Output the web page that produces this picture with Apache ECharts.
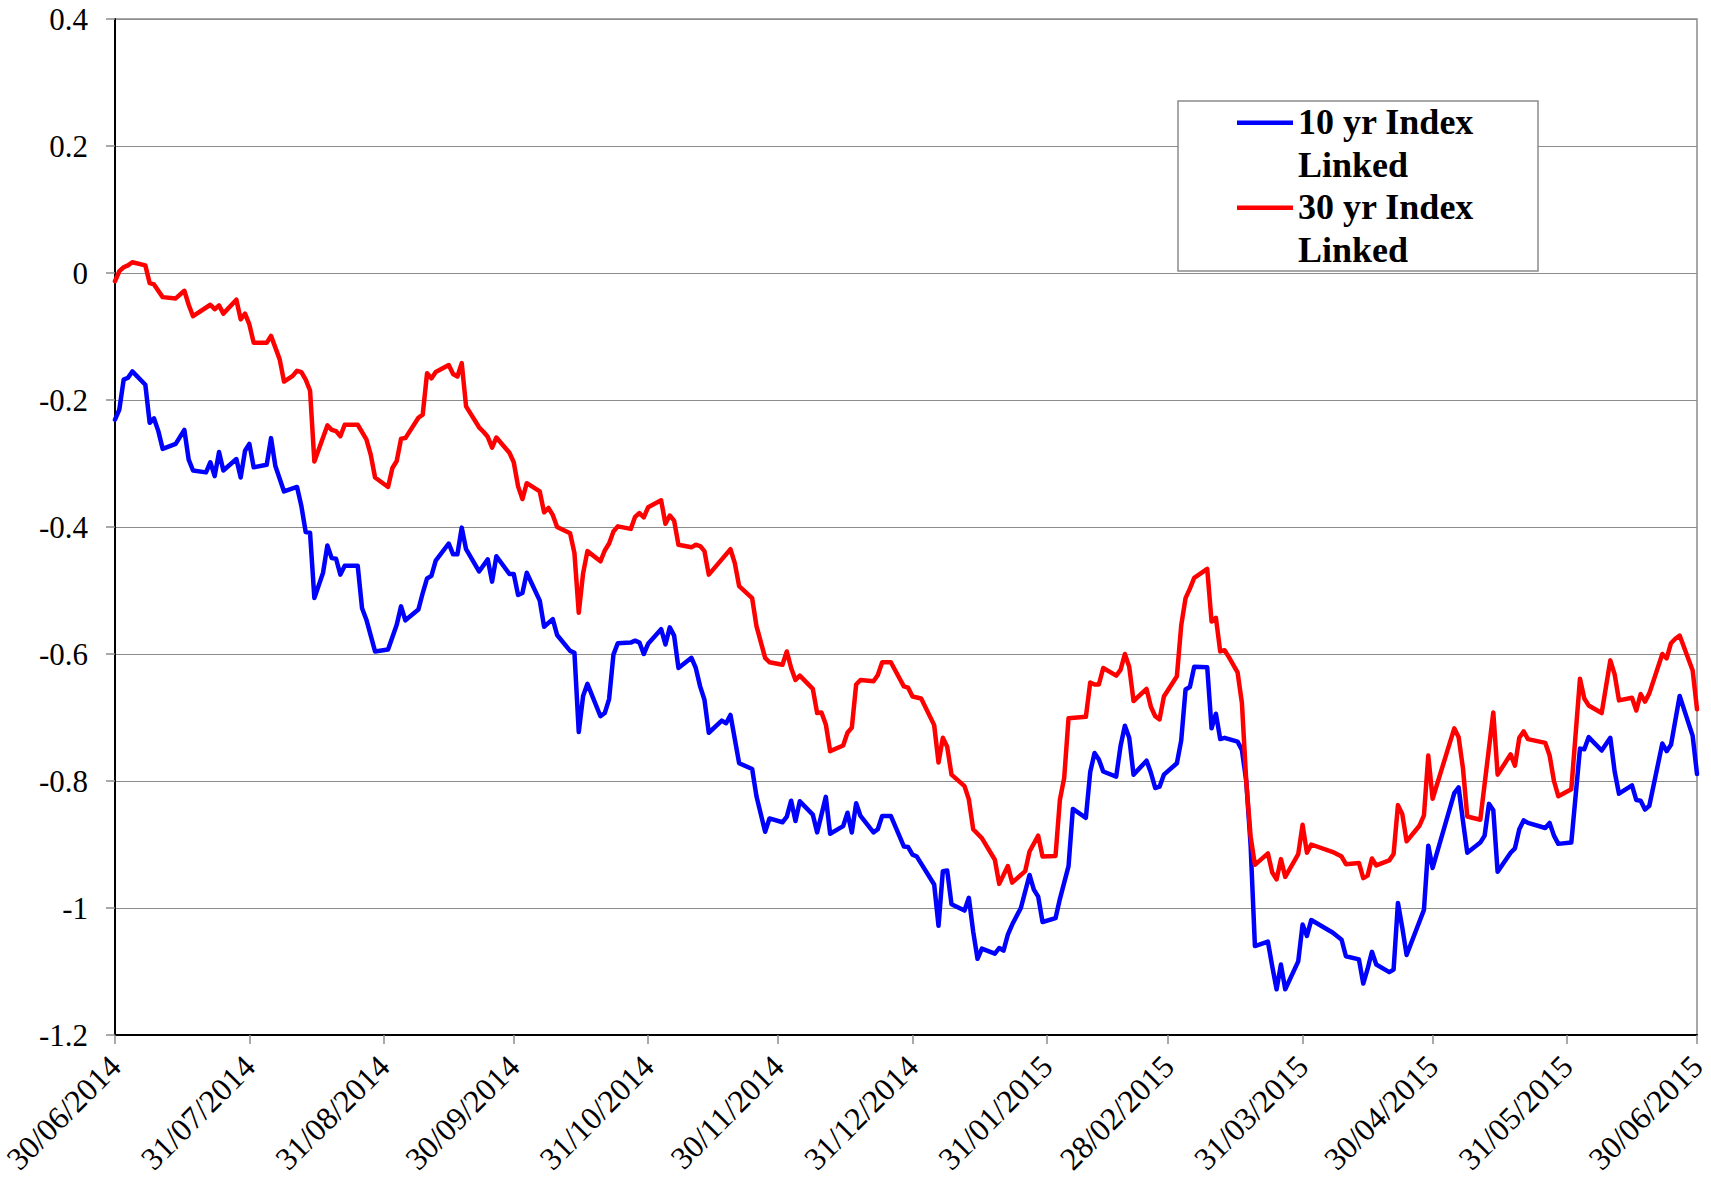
<!DOCTYPE html>
<html>
<head>
<meta charset="utf-8">
<script src="https://cdn.jsdelivr.net/npm/echarts@6/dist/echarts.min.js"></script>
<style>
  html, body { margin: 0; padding: 0; background: #ffffff; }
  #chart { width: 1711px; height: 1180px; }
</style>
</head>
<body>
<div id="chart"></div>
<script>
// Day offsets are counted from 30/06/2014 (day 0) to 30/06/2015 (day 365).

// 10 yr Index Linked
const tenYearDays = [
  0, 1, 2, 3, 4, 7, 8, 9, 10, 11, 14, 16, 17, 18, 21, 22, 23, 24, 25, 28,
  29, 30, 31, 32, 35, 36, 37, 39, 42, 43, 44, 45, 46, 48, 49, 50, 51, 52, 53, 56,
  57, 58, 60, 63, 65, 66, 67, 70, 71, 72, 73, 74, 77, 78, 79, 80, 81, 84, 86, 87,
  88, 91, 92, 93, 94, 95, 98, 99, 101, 102, 105, 106, 107, 108, 109, 112, 113, 114, 115, 116,
  119, 120, 121, 122, 123, 126, 127, 128, 129, 130, 133, 134, 135, 136, 137, 140, 141, 142, 144, 147,
  148, 150, 151, 154, 155, 156, 157, 158, 161, 162, 164, 165, 168, 169, 170, 171, 172, 175, 176, 177,
  179, 182, 183, 184, 185, 189, 190, 191, 192, 193, 196, 197, 198, 199, 200, 203, 204, 205, 206, 207,
  209, 211, 212, 213, 214, 217, 218, 220, 221, 224, 225, 226, 227, 228, 231, 232, 233, 234, 235, 238,
  239, 240, 241, 242, 245, 246, 247, 248, 249, 252, 253, 254, 255, 256, 259, 260, 261, 262, 263, 266,
  267, 268, 269, 270, 273, 274, 275, 276, 281, 283, 284, 287, 288, 289, 290, 291, 294, 295, 296, 297,
  298, 302, 303, 304, 309, 310, 311, 312, 315, 316, 317, 318, 319, 322, 323, 324, 325, 326, 330, 331,
  332, 333, 336, 338, 339, 340, 343, 345, 346, 347, 350, 351, 352, 353, 354, 357, 358, 359, 361, 364,
  365
];
const tenYearValues = [
  -0.231, -0.215, -0.168, -0.165, -0.155, -0.176, -0.236, -0.229, -0.249, -0.277, -0.269, -0.247, -0.294, -0.311, -0.314, -0.298, -0.320, -0.282, -0.311, -0.293,
  -0.322, -0.280, -0.269, -0.306, -0.302, -0.260, -0.304, -0.344, -0.337, -0.367, -0.408, -0.409, -0.512, -0.472, -0.429, -0.449, -0.450, -0.475, -0.461, -0.461,
  -0.528, -0.546, -0.596, -0.593, -0.554, -0.525, -0.547, -0.530, -0.504, -0.481, -0.477, -0.453, -0.426, -0.443, -0.443, -0.401, -0.435, -0.470, -0.451, -0.486,
  -0.446, -0.474, -0.474, -0.507, -0.504, -0.472, -0.516, -0.557, -0.545, -0.570, -0.595, -0.598, -0.723, -0.666, -0.647, -0.698, -0.693, -0.671, -0.601, -0.583,
  -0.582, -0.579, -0.582, -0.600, -0.584, -0.561, -0.585, -0.558, -0.571, -0.622, -0.606, -0.622, -0.651, -0.672, -0.724, -0.705, -0.709, -0.696, -0.772, -0.781,
  -0.824, -0.880, -0.859, -0.865, -0.856, -0.831, -0.863, -0.832, -0.853, -0.881, -0.825, -0.883, -0.871, -0.850, -0.881, -0.835, -0.855, -0.881, -0.876, -0.855,
  -0.855, -0.903, -0.904, -0.916, -0.919, -0.963, -1.028, -0.942, -0.941, -0.994, -1.004, -0.984, -1.037, -1.080, -1.064, -1.072, -1.063, -1.067, -1.042, -1.026,
  -1.000, -0.948, -0.971, -0.982, -1.022, -1.016, -0.986, -0.934, -0.844, -0.858, -0.786, -0.756, -0.766, -0.785, -0.793, -0.745, -0.713, -0.732, -0.790, -0.768,
  -0.787, -0.811, -0.809, -0.790, -0.772, -0.736, -0.656, -0.652, -0.620, -0.621, -0.717, -0.694, -0.734, -0.732, -0.738, -0.751, -0.800, -0.900, -1.060, -1.053,
  -1.092, -1.128, -1.089, -1.128, -1.084, -1.026, -1.044, -1.019, -1.039, -1.050, -1.076, -1.081, -1.119, -1.096, -1.069, -1.089, -1.101, -1.097, -0.992, -1.031,
  -1.074, -1.003, -0.902, -0.937, -0.819, -0.810, -0.863, -0.913, -0.897, -0.886, -0.836, -0.846, -0.943, -0.913, -0.906, -0.876, -0.862, -0.866, -0.874, -0.866,
  -0.886, -0.899, -0.897, -0.749, -0.750, -0.731, -0.752, -0.732, -0.785, -0.820, -0.807, -0.830, -0.831, -0.845, -0.839, -0.741, -0.753, -0.743, -0.666, -0.729,
  -0.789
];

// 30 yr Index Linked
const thirtyYearDays = [
  0, 1, 2, 3, 4, 7, 8, 9, 11, 14, 16, 17, 18, 22, 23, 24, 25, 28, 29, 30,
  31, 32, 35, 36, 38, 39, 41, 42, 43, 44, 45, 46, 49, 50, 51, 52, 53, 56, 58, 59,
  60, 63, 64, 65, 66, 67, 70, 71, 72, 73, 74, 77, 78, 79, 80, 81, 84, 85, 86, 87,
  88, 91, 92, 93, 94, 95, 98, 99, 100, 101, 102, 105, 106, 107, 108, 109, 112, 113, 114, 115,
  116, 119, 120, 121, 122, 123, 126, 127, 128, 129, 130, 133, 134, 135, 136, 137, 140, 142, 143, 144,
  147, 148, 150, 151, 154, 155, 156, 157, 158, 161, 162, 163, 164, 165, 168, 169, 170, 171, 172, 175,
  176, 177, 179, 182, 183, 184, 186, 189, 190, 191, 192, 193, 196, 197, 198, 200, 203, 204, 206, 207,
  210, 211, 213, 214, 217, 218, 219, 220, 224, 225, 226, 227, 228, 231, 232, 233, 234, 235, 238, 239,
  240, 241, 242, 245, 246, 247, 248, 249, 252, 253, 254, 255, 256, 257, 259, 260, 261, 262, 263, 266,
  267, 268, 269, 270, 273, 274, 275, 276, 281, 283, 284, 287, 288, 289, 290, 291, 294, 295, 296, 297,
  298, 301, 302, 303, 304, 309, 310, 311, 312, 315, 318, 319, 322, 323, 324, 325, 326, 330, 331, 332,
  333, 336, 338, 339, 340, 343, 345, 346, 347, 350, 351, 352, 353, 354, 357, 358, 359, 360, 361, 364,
  365
];
const thirtyYearValues = [
  -0.013, 0.003, 0.009, 0.012, 0.017, 0.012, -0.016, -0.018, -0.038, -0.040, -0.028, -0.050, -0.068, -0.050, -0.057, -0.051, -0.064, -0.042, -0.073, -0.064,
  -0.081, -0.110, -0.110, -0.099, -0.136, -0.171, -0.162, -0.154, -0.156, -0.168, -0.185, -0.297, -0.240, -0.247, -0.249, -0.257, -0.239, -0.239, -0.262, -0.286,
  -0.322, -0.337, -0.307, -0.296, -0.261, -0.260, -0.228, -0.223, -0.158, -0.166, -0.156, -0.145, -0.159, -0.163, -0.142, -0.210, -0.243, -0.250, -0.258, -0.275,
  -0.259, -0.283, -0.298, -0.336, -0.356, -0.331, -0.344, -0.377, -0.370, -0.381, -0.400, -0.410, -0.441, -0.535, -0.473, -0.438, -0.454, -0.437, -0.426, -0.407,
  -0.399, -0.403, -0.384, -0.378, -0.385, -0.369, -0.358, -0.395, -0.382, -0.390, -0.428, -0.432, -0.428, -0.430, -0.438, -0.475, -0.451, -0.435, -0.457, -0.493,
  -0.512, -0.556, -0.606, -0.613, -0.617, -0.596, -0.622, -0.641, -0.634, -0.655, -0.693, -0.692, -0.711, -0.753, -0.744, -0.724, -0.716, -0.648, -0.641, -0.643,
  -0.633, -0.613, -0.613, -0.651, -0.653, -0.667, -0.670, -0.712, -0.771, -0.732, -0.746, -0.790, -0.808, -0.829, -0.876, -0.890, -0.924, -0.962, -0.934, -0.960,
  -0.942, -0.911, -0.886, -0.919, -0.918, -0.830, -0.795, -0.701, -0.699, -0.645, -0.648, -0.648, -0.622, -0.634, -0.625, -0.600, -0.620, -0.674, -0.655, -0.683,
  -0.698, -0.703, -0.667, -0.635, -0.555, -0.512, -0.497, -0.480, -0.466, -0.549, -0.543, -0.596, -0.594, -0.605, -0.629, -0.677, -0.800, -0.887, -0.932, -0.914,
  -0.944, -0.955, -0.923, -0.951, -0.915, -0.869, -0.913, -0.900, -0.912, -0.919, -0.931, -0.929, -0.953, -0.949, -0.922, -0.933, -0.925, -0.915, -0.838, -0.852,
  -0.895, -0.870, -0.854, -0.760, -0.828, -0.717, -0.731, -0.780, -0.856, -0.861, -0.692, -0.790, -0.758, -0.776, -0.732, -0.722, -0.734, -0.740, -0.760, -0.800,
  -0.824, -0.813, -0.639, -0.670, -0.681, -0.693, -0.610, -0.632, -0.673, -0.669, -0.689, -0.663, -0.675, -0.662, -0.600, -0.607, -0.583, -0.576, -0.571, -0.626,
  -0.687
];

// Month-end tick positions on the date axis
const monthEndDays = [0, 31, 62, 92, 123, 153, 184, 215, 243, 274, 304, 335, 365];

const seriesNames = ['10 yr Index Linked', '30 yr Index Linked'];

const startDateUTC = Date.UTC(2014, 5, 30);
const pad2 = n => (n < 10 ? '0' : '') + n;
function dayToLabel(day) {
  const d = new Date(startDateUTC + day * 86400000);
  return pad2(d.getUTCDate()) + '/' + pad2(d.getUTCMonth() + 1) + '/' + d.getUTCFullYear();
}
const pairs = (xs, ys) => xs.map((x, i) => [x, ys[i]]);

const serif = "'Liberation Serif', 'Times New Roman', serif";

const chart = echarts.init(document.getElementById('chart'), null, { renderer: 'svg' });
chart.setOption({
  backgroundColor: '#ffffff',
  animation: false,
  grid: {
    left: 115, top: 19, width: 1582, height: 1016,
    containLabel: false,
    outerBoundsMode: 'none',
    show: true,
    borderColor: '#8c8c8c',
    borderWidth: 1.5,
    backgroundColor: 'transparent'
  },
  legend: {
    orient: 'vertical',
    left: 1178,
    top: 101,
    padding: [0, 64, 0, 59],
    itemWidth: 56,
    itemHeight: 46,
    itemGap: 0,
    icon: 'path://M0,0H56V4.5H0Z M0,46L0.01,46',
    itemStyle: { borderWidth: 0 },
    backgroundColor: '#ffffff',
    borderColor: '#8c8c8c',
    borderWidth: 1.5,
    selectedMode: false,
    formatter: name => name.replace(' Linked', '\nLinked'),
    textStyle: {
      fontFamily: serif, fontWeight: 'bold', fontSize: 36, lineHeight: 42.5, color: '#000000'
    },
    data: seriesNames
  },
  xAxis: {
    type: 'value',
    min: 0,
    max: 365,
    splitLine: { show: false },
    axisLine: { show: true, onZero: false, lineStyle: { color: '#000000', width: 2 } },
    axisTick: {
      show: true, length: 9, inside: false,
      customValues: monthEndDays,
      lineStyle: { color: '#8c8c8c', width: 1.5 }
    },
    axisLabel: {
      show: true,
      customValues: monthEndDays,
      rotate: 45,
      margin: 26,
      hideOverlap: false,
      fontFamily: serif,
      fontSize: 32,
      color: '#000000',
      formatter: v => dayToLabel(v)
    }
  },
  yAxis: {
    type: 'value',
    min: -1.2,
    max: 0.4,
    interval: 0.2,
    axisLine: { show: true, onZero: false, lineStyle: { color: '#000000', width: 2 } },
    axisTick: { show: true, length: 9, lineStyle: { color: '#8c8c8c', width: 1.5 } },
    splitLine: { show: true, lineStyle: { color: '#8c8c8c', width: 1.2 } },
    axisLabel: {
      margin: 27,
      fontFamily: serif,
      fontSize: 31,
      color: '#000000',
      formatter: v => String(Math.round(v * 10) / 10)
    }
  },
  series: [
    {
      name: seriesNames[0],
      type: 'line',
      data: pairs(tenYearDays, tenYearValues),
      showSymbol: false,
      symbol: 'none',
      color: '#0000ff',
      lineStyle: { color: '#0000ff', width: 4.5, join: 'round', cap: 'round' }
    },
    {
      name: seriesNames[1],
      type: 'line',
      data: pairs(thirtyYearDays, thirtyYearValues),
      showSymbol: false,
      symbol: 'none',
      color: '#ff0000',
      lineStyle: { color: '#ff0000', width: 4.5, join: 'round', cap: 'round' }
    }
  ]
});
</script>
</body>
</html>
